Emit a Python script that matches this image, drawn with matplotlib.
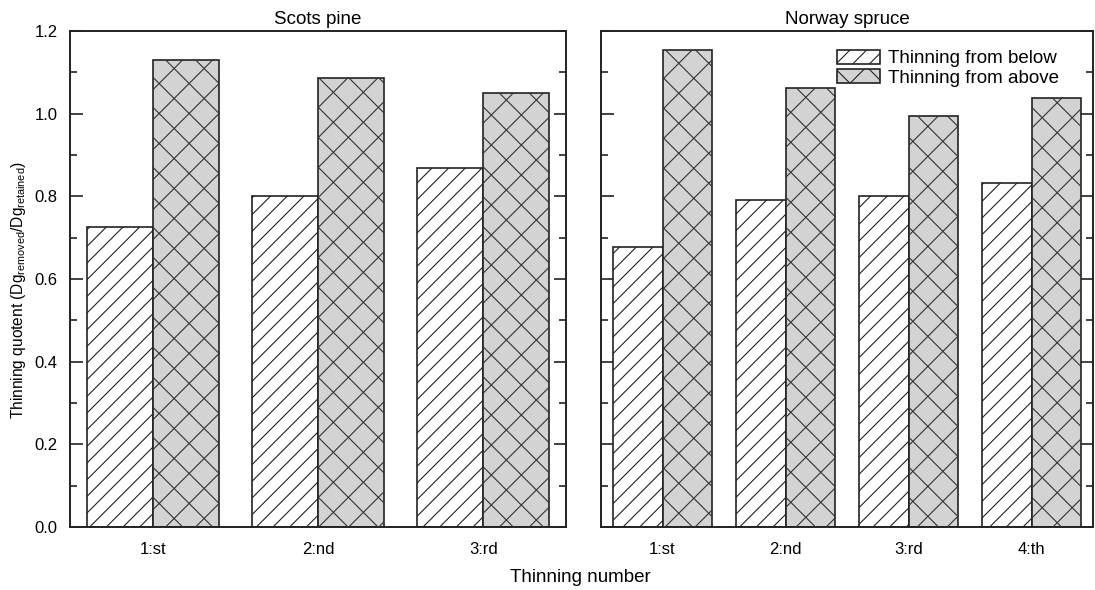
import numpy as np
import matplotlib
matplotlib.use("Agg")
import matplotlib.pyplot as plt
from matplotlib.patches import Patch
from matplotlib.ticker import MultipleLocator, FormatStrFormatter

plt.rcParams['font.family'] = ['Liberation Sans', 'DejaVu Sans']
plt.rcParams['mathtext.fontset'] = 'custom'
plt.rcParams['mathtext.rm'] = 'Liberation Sans'
plt.rcParams['hatch.linewidth'] = 0.8
plt.rcParams['hatch.color'] = '#333333'

# data
pine_labels = ['1:st', '2:nd', '3:rd']
pine_below = [0.727, 0.802, 0.868]
pine_above = [1.130, 1.087, 1.050]

spruce_labels = ['1:st', '2:nd', '3:rd', '4:th']
spruce_below = [0.678, 0.792, 0.800, 0.832]
spruce_above = [1.155, 1.063, 0.995, 1.037]

edge = '#222222'
grey = '#d3d3d3'


def cross_hatch(ax, bars, step=30):
    """draw a wide X hatch clipped to each bar (built-in 'x' is too dense)"""
    to_data = ax.transData.inverted()
    for bar in bars:
        (x0, y0), (x1, y1) = ax.transData.transform(
            [[bar.get_x(), 0], [bar.get_x() + bar.get_width(), bar.get_height()]])
        h = y1 - y0
        for c in np.arange(x0 - h - step, x1 + step, step):
            for p in ([[c, y0], [c + h, y1]], [[c, y1], [c + h, y0]]):
                pts = to_data.transform(p)
                ln, = ax.plot(pts[:, 0], pts[:, 1], color='#333333', lw=0.8, zorder=3)
                ln.set_clip_path(bar)


def panel(ax, labels, below, above, title):
    x = np.arange(1, len(labels) + 1)
    w = 0.4
    ax.bar(x - w / 2, below, w, color='white', edgecolor=edge, lw=1.2,
           hatch='//', zorder=2)
    bars = ax.bar(x + w / 2, above, w, color=grey, edgecolor=edge, lw=1.2, zorder=2)
    ax.set_xlim(0.5, len(labels) + 0.5)
    ax.set_ylim(0, 1.2)
    ax.set_xticks(x)
    ax.set_xticklabels(labels)
    ax.yaxis.set_major_locator(MultipleLocator(0.2))
    ax.yaxis.set_minor_locator(MultipleLocator(0.1))
    ax.yaxis.set_major_formatter(FormatStrFormatter('%.1f'))
    ax.tick_params(axis='x', length=0, pad=11, labelsize=12)
    ax.tick_params(axis='y', which='both', direction='in', left=True, right=True,
                   labelsize=12, pad=9, width=1.2, color=edge)
    ax.tick_params(axis='y', which='major', length=9)
    ax.tick_params(axis='y', which='minor', length=5)
    for s in ax.spines.values():
        s.set_linewidth(1.4)
        s.set_color(edge)
    ax.set_title(title, fontsize=13.5, pad=5)
    return bars


fig = plt.figure(figsize=(10.95, 5.90), dpi=100)
ax1 = fig.add_axes([70 / 1095, 63 / 590, 496 / 1095, 496 / 590])
ax2 = fig.add_axes([601 / 1095, 63 / 590, 492 / 1095, 496 / 590])

b1 = panel(ax1, pine_labels, pine_below, pine_above, 'Scots pine')
b2 = panel(ax2, spruce_labels, spruce_below, spruce_above, 'Norway spruce')
ax2.tick_params(axis='y', labelleft=False)

cross_hatch(ax1, b1)
cross_hatch(ax2, b2)

handles = [Patch(facecolor='white', edgecolor=edge, hatch='//', lw=1.2),
           Patch(facecolor=grey, edgecolor=edge, hatch='x', lw=1.2)]
ax2.legend(handles, ['Thinning from below', 'Thinning from above'],
           loc='upper left', bbox_to_anchor=(0.48, 0.962), frameon=False,
           fontsize=13.5, handlelength=2.3, handleheight=0.75,
           handletextpad=0.4, labelspacing=0.1, borderpad=0, borderaxespad=0)

ax1.set_ylabel('Thinning quotent (Dg$_\\mathrm{removed}$/Dg$_\\mathrm{retained}$)',
               fontsize=11.2)
ax1.yaxis.set_label_coords(-42 / 496, 0.478)
fig.text(580 / 1095, 13 / 590, 'Thinning number', fontsize=13.5,
         ha='center', va='center')

fig.savefig('out.png', dpi=100)
